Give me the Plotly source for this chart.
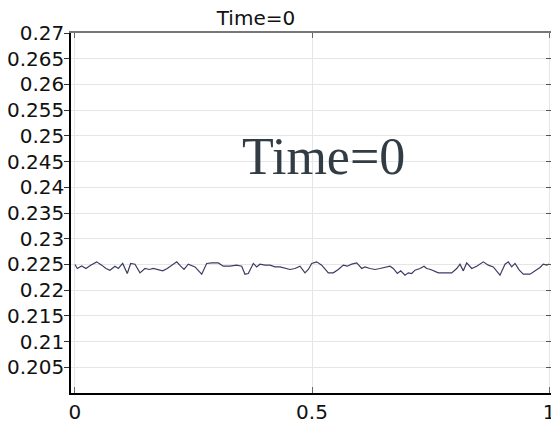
import plotly.graph_objects as go

# Profile along the normalized arc length at the initial time step
arc = [0.0, 0.0049, 0.0141, 0.0232, 0.0331, 0.0458, 0.0563, 0.0654, 0.0738, 0.0844,
       0.0914, 0.1006, 0.1103, 0.1175, 0.1266, 0.1371, 0.1477, 0.1568, 0.1652, 0.1736,
       0.1850, 0.1947, 0.2040, 0.2146, 0.2230, 0.2300, 0.2390, 0.2483, 0.2532, 0.2673,
       0.2778, 0.2884, 0.3023, 0.3129, 0.3270, 0.3411, 0.3517, 0.3586, 0.3656, 0.3762,
       0.3833, 0.3903, 0.4008, 0.4114, 0.4219, 0.4325, 0.4430, 0.4536, 0.4641, 0.4747,
       0.4852, 0.4922, 0.4994, 0.5099, 0.5205, 0.5344, 0.5449, 0.5555, 0.5660, 0.5745,
       0.5838, 0.5943, 0.6049, 0.6118, 0.6224, 0.6329, 0.6435, 0.6540, 0.6646, 0.6715,
       0.6800, 0.6871, 0.6962, 0.7032, 0.7103, 0.7173, 0.7278, 0.7363, 0.7420, 0.7504,
       0.7665, 0.7806, 0.7947, 0.8053, 0.8122, 0.8192, 0.8264, 0.8369, 0.8475, 0.8614,
       0.8719, 0.8825, 0.8966, 0.9072, 0.9141, 0.9213, 0.9283, 0.9373, 0.9458, 0.9599,
       0.9705, 0.9810, 0.9880, 0.9951, 1.0]

values = [0.22500, 0.22421, 0.22472, 0.22421, 0.22486, 0.22550, 0.22486, 0.22421, 0.22388, 0.22466,
          0.22421, 0.22519, 0.22324, 0.22519, 0.22505, 0.22336, 0.22421, 0.22402, 0.22421, 0.22402,
          0.22375, 0.22421, 0.22486, 0.22550, 0.22466, 0.22402, 0.22505, 0.22466, 0.22452, 0.22310,
          0.22519, 0.22530, 0.22530, 0.22466, 0.22466, 0.22486, 0.22466, 0.22310, 0.22324, 0.22519,
          0.22452, 0.22505, 0.22486, 0.22486, 0.22452, 0.22452, 0.22421, 0.22402, 0.22421, 0.22466,
          0.22336, 0.22402, 0.22519, 0.22550, 0.22486, 0.22336, 0.22336, 0.22402, 0.22486, 0.22466,
          0.22505, 0.22530, 0.22421, 0.22452, 0.22421, 0.22402, 0.22421, 0.22441, 0.22466, 0.22421,
          0.22324, 0.22375, 0.22291, 0.22336, 0.22324, 0.22388, 0.22421, 0.22466, 0.22421, 0.22402,
          0.22336, 0.22336, 0.22336, 0.22421, 0.22505, 0.22375, 0.22530, 0.22421, 0.22466, 0.22550,
          0.22486, 0.22452, 0.22291, 0.22505, 0.22550, 0.22452, 0.22519, 0.22388, 0.22310, 0.22310,
          0.22375, 0.22441, 0.22505, 0.22486, 0.22505]

x_ticks = [0, 0.5, 1]
x_tick_labels = ["0", "0.5", "1"]
y_ticks = [0.205, 0.21, 0.215, 0.22, 0.225, 0.23, 0.235, 0.24, 0.245, 0.25,
           0.255, 0.26, 0.265, 0.27]
y_tick_labels = ["0.205", "0.21", "0.215", "0.22", "0.225", "0.23", "0.235", "0.24",
                 "0.245", "0.25", "0.255", "0.26", "0.265", "0.27"]

title_text = "Time=0"
x_range = [-0.0084, 1.0042]
y_range = [0.2, 0.27]

tick_font = dict(family="DejaVu Sans", size=20, color="#111111")

fig = go.Figure()
fig.add_trace(go.Scatter(
    x=arc, y=values, mode="lines",
    line=dict(color="#3c3c64", width=1.2),
    showlegend=False, hoverinfo="skip",
))
# empty trace so the top/right frame axes are drawn
fig.add_trace(go.Scatter(x=[], y=[], xaxis="x2", yaxis="y2", showlegend=False))

fig.add_annotation(
    x=0.524, y=0.2459, xref="x", yref="y",
    text=title_text, showarrow=False,
    xanchor="center", yanchor="middle",
    font=dict(family="Liberation Serif", size=52, color="#323c44"),
)

fig.update_layout(
    width=551, height=423,
    margin=dict(l=71, r=0, t=33, b=30),
    paper_bgcolor="white", plot_bgcolor="white",
    showlegend=False,
    title=dict(text=title_text, x=0.4646, xanchor="center", y=0.957, yanchor="middle",
               font=dict(family="DejaVu Sans", size=20, color="#111111")),
    xaxis=dict(
        range=x_range, tickvals=x_ticks, ticktext=x_tick_labels,
        ticks="inside", ticklen=6, tickcolor="#666666",
        showline=True, linecolor="black", linewidth=1.5,
        showgrid=True, gridcolor="#e6e6e6", gridwidth=1,
        zeroline=False, tickfont=tick_font, automargin=False,
        ticklabeloverflow="allow",
    ),
    yaxis=dict(
        range=y_range, tickvals=y_ticks, ticktext=y_tick_labels,
        ticks="outside", ticklen=5, tickcolor="#333333",
        showline=True, linecolor="black", linewidth=1.5,
        showgrid=True, gridcolor="#e6e6e6", gridwidth=1,
        zeroline=False, tickfont=tick_font, automargin=False,
        ticklabelstandoff=-4,
    ),
    xaxis2=dict(
        range=x_range, overlaying="x", side="top", anchor="y",
        tickvals=x_ticks, ticks="inside", ticklen=5, tickcolor="#666666",
        showticklabels=False, showline=True, linecolor="#777777", linewidth=1.5,
        showgrid=False, zeroline=False,
    ),
    yaxis2=dict(
        range=y_range, overlaying="y", side="right", anchor="x",
        tickvals=y_ticks, ticks="inside", ticklen=5, tickcolor="#555555",
        showticklabels=False, showline=True, linecolor="#777777", linewidth=1,
        showgrid=False, zeroline=False,
    ),
)

fig.write_html("out.html")
